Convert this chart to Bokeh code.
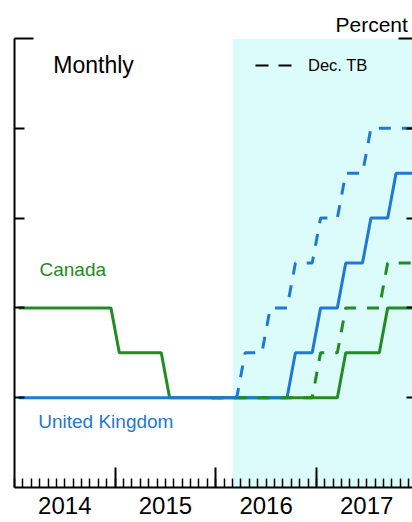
import pandas as pd
from bokeh.plotting import figure
from bokeh.models import (Range1d, LinearAxis, FixedTicker, BoxAnnotation, Label,
                          Legend, LegendItem, ColumnDataSource)
from bokeh.embed import file_html
from bokeh.resources import INLINE

# ---------------- data ----------------
year_ticks = [2015, 2016, 2017]
year_label_pos = [2014.5, 2015.5, 2016.5, 2017.5]
year_labels = ["2014", "2015", "2016", "2017"]
y_minor_ticks = [0.5, 1.0, 1.5, 2.0]
y_top_tick = [2.5]
shade_start = 2016 + 2 / 12

months = pd.date_range("2014-01-01", "2017-12-01", freq="MS")
tb_months = pd.date_range("2015-12-01", "2017-12-01", freq="MS")
month_edges = pd.date_range("2014-01-01", "2018-01-01", freq="MS")

canada_actual = [
    1.0, 1.0, 1.0, 1.0, 1.0, 1.0, 1.0, 1.0, 1.0, 1.0, 1.0, 1.0,          # 2014
    0.75, 0.75, 0.75, 0.75, 0.75, 0.75, 0.5, 0.5, 0.5, 0.5, 0.5, 0.5,   # 2015
    0.5, 0.5, 0.5, 0.5, 0.5, 0.5, 0.5, 0.5, 0.5, 0.5, 0.5, 0.5,         # 2016
    0.5, 0.5, 0.5, 0.75, 0.75, 0.75, 0.75, 0.75, 1.0, 1.0, 1.0, 1.0,    # 2017
]
uk_actual = [
    0.5, 0.5, 0.5, 0.5, 0.5, 0.5, 0.5, 0.5, 0.5, 0.5, 0.5, 0.5,         # 2014
    0.5, 0.5, 0.5, 0.5, 0.5, 0.5, 0.5, 0.5, 0.5, 0.5, 0.5, 0.5,         # 2015
    0.5, 0.5, 0.5, 0.5, 0.5, 0.5, 0.5, 0.5, 0.5, 0.75, 0.75, 0.75,      # 2016
    1.0, 1.0, 1.0, 1.25, 1.25, 1.25, 1.5, 1.5, 1.5, 1.75, 1.75, 1.75,   # 2017
]
# Dec. TB paths, Dec 2015 - Dec 2017
canada_tb = [
    0.5,
    0.5, 0.5, 0.5, 0.5, 0.5, 0.5, 0.5, 0.5, 0.5, 0.5, 0.5, 0.5,
    0.75, 0.75, 0.75, 1.0, 1.0, 1.0, 1.0, 1.0, 1.25, 1.25, 1.25, 1.25,
]
uk_tb = [
    0.5,
    0.5, 0.5, 0.5, 0.75, 0.75, 0.75, 1.0, 1.0, 1.0, 1.25, 1.25, 1.25,
    1.5, 1.5, 1.5, 1.75, 1.75, 1.75, 2.0, 2.0, 2.0, 2.0, 2.0, 2.0,
]

def to_year(d):
    return list(d.year + (d.month - 0.5) / 12)

src_actual = ColumnDataSource(dict(x=to_year(months), canada=canada_actual, uk=uk_actual))
src_tb = ColumnDataSource(dict(x=to_year(tb_months), canada=canada_tb, uk=uk_tb))
minor_x = list(month_edges.year + (month_edges.month - 1) / 12)

# ---------------- style ----------------
FONT = "Liberation Sans"
BLUE = "#1f78d2"
GREEN = "#228b22"
SHADE = "#dcfcfc"

p = figure(width=412, height=522, x_range=Range1d(2014, 2017.955), y_range=Range1d(0, 2.5),
           output_backend="svg", toolbar_location=None,
           x_axis_location=None, y_axis_location=None,
           min_border_left=14, min_border_right=0, min_border_top=38, min_border_bottom=35,
           outline_line_color=None, background_fill_color="white")
p.xgrid.visible = False
p.ygrid.visible = False

# "Percent" unit label at the top right
p.title.text = "Percent"
p.title.align = "left"
p.title.offset = 321
p.title.standoff = 5
p.title.text_font = FONT
p.title.text_font_size = "21px"
p.title.text_font_style = "normal"
p.title.text_color = "black"

p.add_layout(BoxAnnotation(left=shade_start, fill_color=SHADE, fill_alpha=1.0,
                           line_color=None, level="underlay"))

# axes
xa = LinearAxis(ticker=FixedTicker(ticks=year_ticks, minor_ticks=minor_x),
                major_tick_in=20, major_tick_out=0, minor_tick_in=9, minor_tick_out=0,
                major_tick_line_width=2, minor_tick_line_width=1.5,
                axis_line_width=2, major_label_text_color=None, major_label_standoff=0)
p.add_layout(xa, "below")
xb = LinearAxis(ticker=FixedTicker(ticks=year_label_pos, minor_ticks=[]),
                axis_line_color=None, major_tick_line_color=None, minor_tick_line_color=None,
                major_tick_in=0, major_tick_out=0, minor_tick_in=0, minor_tick_out=0,
                major_label_overrides={v: t for v, t in zip(year_label_pos, year_labels)},
                major_label_text_font=FONT, major_label_text_font_size="24px",
                major_label_text_color="black", major_label_standoff=9)
p.add_layout(xb, "below")

ya = LinearAxis(ticker=FixedTicker(ticks=y_top_tick, minor_ticks=y_minor_ticks),
                major_tick_in=19, major_tick_out=0, minor_tick_in=10, minor_tick_out=0,
                major_tick_line_width=2, minor_tick_line_width=2,
                axis_line_width=2, major_label_text_color=None, major_label_standoff=0)
p.add_layout(ya, "left")
yr = LinearAxis(ticker=FixedTicker(ticks=y_top_tick, minor_ticks=y_minor_ticks),
                major_tick_in=14, major_tick_out=0, minor_tick_in=6, minor_tick_out=0,
                major_tick_line_width=2, minor_tick_line_width=2,
                axis_line_color=None, major_label_text_color=None, major_label_standoff=0)
p.add_layout(yr, "right")

# lines (drawing order as in the reference)
p.line("x", "canada", source=src_actual, line_color=GREEN, line_width=3)
p.line("x", "uk", source=src_actual, line_color=BLUE, line_width=3)
p.line("x", "canada", source=src_tb, line_color=GREEN, line_width=3, line_dash="12 11")
p.line("x", "uk", source=src_tb, line_color=BLUE, line_width=3, line_dash="12 11")

# legend key (a renderer with a single empty point, used only for the legend)
key = p.line(x=[float("nan")], y=[float("nan")], line_color="black", line_width=2,
             line_dash="13 10")
legend = Legend(items=[LegendItem(label="Dec. TB", renderers=[key])], location=(241, 412),
                glyph_width=37, glyph_height=20, label_height=20, label_standoff=16,
                padding=0, margin=0, spacing=0, border_line_color=None,
                background_fill_alpha=0, label_text_font=FONT, label_text_font_size="16.5px",
                label_text_baseline="middle", label_text_color="black")
p.add_layout(legend)

# labels
def lab(x, y, text, size, color):
    p.add_layout(Label(x=x, y=y, text=text, text_font=FONT, text_font_size=size,
                       text_color=color, text_baseline="alphabetic", text_align="left"))

lab(2014.385, 2.353, "Monthly", "23px", "black")
lab(2014.248, 1.213, "Canada", "19px", GREEN)
lab(2014.236, 0.367, "United Kingdom", "19px", BLUE)

open("out.html", "w").write(file_html(p, INLINE))
